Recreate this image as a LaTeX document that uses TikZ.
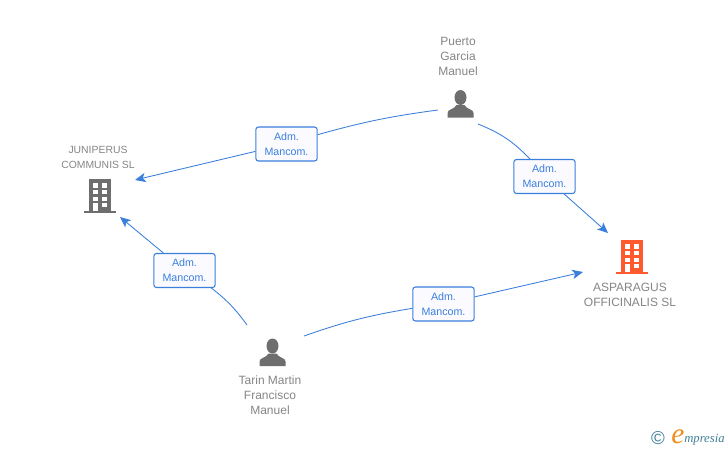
\documentclass[tikz,border=0pt]{standalone}
\usepackage{fontspec}
\setmainfont{Liberation Sans}
\newfontfamily\logofont{Liberation Serif}
\usetikzlibrary{arrows.meta}
\definecolor{linkblue}{HTML}{3B7FDC}
\definecolor{namegrey}{HTML}{858585}
\definecolor{icongrey}{HTML}{6E6E6E}
\definecolor{iconorange}{HTML}{FF5A2E}
\definecolor{logoteal}{HTML}{3E7F97}
\definecolor{logoorange}{HTML}{F28C1E}
\tikzset{
    link/.style={draw=linkblue, line width=0.65pt},
    tolink/.style={link, -{Stealth[length=8pt,width=7pt,inset=2pt]}},
    rolebox/.style={draw=linkblue, fill=blue!2, rounded corners=2pt, line width=0.8pt,
        minimum width=46pt, minimum height=25.5pt, inner sep=0pt, align=center,
        text=linkblue, font=\fontsize{8}{11.25}\selectfont},
    bigname/.style={text=namegrey, align=center, inner sep=0pt, font=\fontsize{9}{11.25}\selectfont},
    smallname/.style={text=namegrey, align=center, inner sep=0pt, font=\fontsize{7.8}{11.25}\selectfont},
    pics/person/.style={code={
        \fill[icongrey] (0,-6.5) ellipse (6 and 7.5);
        \fill[icongrey] (-13,13.5) -- (-13,9) .. controls (-13,5) and (-6,5.5) .. (-4,1)
            -- (4,1) .. controls (6,5.5) and (13,5) .. (13,9) -- (13,13.5) -- cycle;
    }},
    pics/building/.style={code={
        \fill[#1] (-11,-17) rectangle (11,15);
        \fill[#1] (-16,15) rectangle (16,17);
        \foreach \row in {-13,-6.5,0.5,6.5} {
            \fill[white] (-7,\row) rectangle (-2,\row+4.5);
            \fill[white] (2,\row) rectangle (7,\row+4.5);
        }
        \fill[white] (-7,6.5) rectangle (-2,15);
    }}
}
\begin{document}
\begin{tikzpicture}[x=0.75pt, y=-0.75pt]
    \useasboundingbox (0,0) rectangle (728,450);

    \node[bigname] (puertoname) at (458,56) {Puerto\\Garcia\\Manuel};
    \pic at (460.5,104) {person};
    \node[bigname] (tarinname) at (270,395) {Tarin Martin\\Francisco\\Manuel};
    \pic at (272.5,352.5) {person};
    \node[smallname] (juniperusname) at (98,157.5) {JUNIPERUS\\COMMUNIS SL};
    \pic at (100,196) {building=icongrey};
    \node[bigname] (asparagusname) at (630,294.5) {ASPARAGUS\\OFFICINALIS SL};
    \pic at (632,257) {building=iconorange};

    \node[rolebox] (adm1) at (286.5,144) {Adm.\\Mancom.};
    \node[rolebox] (adm2) at (544.5,176.5) {Adm.\\Mancom.};
    \node[rolebox] (adm3) at (184.5,270.5) {Adm.\\Mancom.};
    \node[rolebox] (adm4) at (443.5,304) {Adm.\\Mancom.};

    \coordinate (puertoa) at (438,110);
    \coordinate (puertob) at (478,124);
    \coordinate (tarina) at (247,325);
    \coordinate (tarinb) at (304,336);
    \coordinate (juniperusa) at (135,180);
    \coordinate (juniperusb) at (120,217);
    \coordinate (asparagusa) at (608,233);
    \coordinate (asparagusb) at (583,272);

    \draw[link] (puertoa) to[bend right=4] (adm1);
    \draw[tolink] (adm1) -- (juniperusa);
    \draw[link] (puertob) to[bend left=12] (adm2);
    \draw[tolink] (adm2) -- (asparagusa);
    \draw[link] (tarina) to[bend right=8] (adm3);
    \draw[tolink] (adm3) -- (juniperusb);
    \draw[link] (tarinb) to[bend left=5] (adm4);
    \draw[tolink] (adm4) -- (asparagusb);

    \node[text=logoteal, inner sep=0pt, font=\fontsize{14}{14}\selectfont] (copyright) at (658,438.5) {©};
    \node[text=logoorange, inner sep=0pt, font=\logofont\fontsize{22}{22}\selectfont\itshape] (logoe) at (678,437) {e};
    \node[text=logoteal, inner sep=0pt, anchor=west, font=\logofont\fontsize{9.5}{9.5}\selectfont\itshape] (logotext) at (684,440) {mpresia};
\end{tikzpicture}
\end{document}
